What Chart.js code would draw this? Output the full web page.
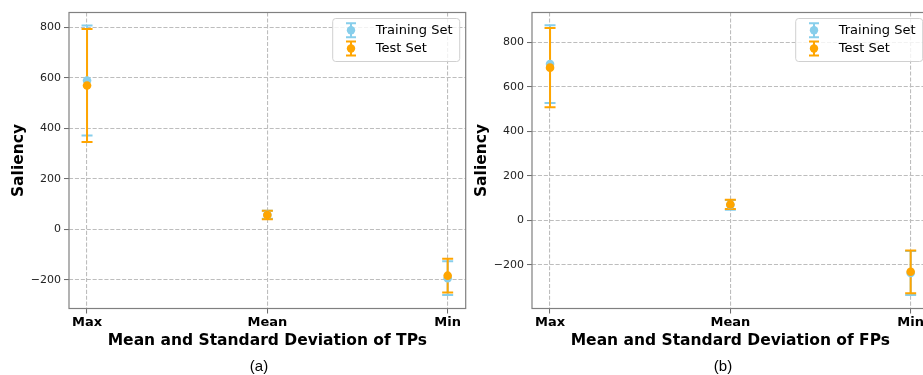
<!DOCTYPE html>
<html>
<head>
<meta charset="utf-8">
<script src="https://cdn.jsdelivr.net/npm/chart.js@4.4.1/dist/chart.umd.min.js"></script>
<style>
  html, body { margin: 0; padding: 0; background: #fff; }
  body { width: 923px; height: 375px; overflow: hidden; position: relative; }
  canvas { position: absolute; top: 0; }
  .cap { position: absolute; width: 100px; text-align: center; font: 15px "Liberation Sans", Arial, sans-serif; color: #000; top: 357px; }
</style>
</head>
<body>
<canvas id="chartA" width="470" height="375" style="left:0"></canvas>
<canvas id="chartB" width="470" height="375" style="left:463px"></canvas>
<div class="cap" style="left:209px">(a)</div>
<div class="cap" style="left:673px">(b)</div>
<script>
// categories on the x axis
const categories = ['Max', 'Mean', 'Min'];
const xPositions = [0, 1, 2];
const yTicks = [-200, 0, 200, 400, 600, 800];

// (a) TPs
const trainMeanA = [590, 58, -193];
const trainStdA = [218, 16, 67];
const testMeanA = [570, 57, -183];
const testStdA = [224, 17, 67];

// (b) FPs
const trainMeanB = [703, 70, -236];
const trainStdB = [175, 22, 99];
const testMeanB = [687, 72, -231];
const testStdB = [178, 21, 96];

const FONT = 'DejaVu Sans';
const SKY = '#87CEEB';
const ORANGE = '#FFA500';

// draws the error bars (under the markers), the frame and the legend
const errorBars = {
  id: 'errorBars',
  beforeDatasetsDraw(chart) {
    const { ctx, scales: { x, y } } = chart;
    chart.data.datasets.forEach(ds => {
      ctx.save();
      ctx.strokeStyle = ds.backgroundColor;
      ctx.lineWidth = 2;
      ds.data.forEach((p, i) => {
        const px = x.getPixelForValue(p.x);
        const top = y.getPixelForValue(p.y + ds.err[i]);
        const bot = y.getPixelForValue(p.y - ds.err[i]);
        ctx.beginPath();
        ctx.moveTo(px, top); ctx.lineTo(px, bot);
        ctx.moveTo(px - 5.5, top); ctx.lineTo(px + 5.5, top);
        ctx.moveTo(px - 5.5, bot); ctx.lineTo(px + 5.5, bot);
        ctx.stroke();
      });
      ctx.restore();
    });
  },
  afterDatasetsDraw(chart) {
    const { ctx, chartArea: a } = chart;
    ctx.save();
    ctx.strokeStyle = '#808080';
    ctx.lineWidth = 1.2;
    ctx.strokeRect(a.left, a.top, a.right - a.left, a.bottom - a.top);

    // legend box
    const w = 127, h = 43;
    const bx = a.right - 6 - w, by = a.top + 6;
    ctx.beginPath();
    ctx.roundRect(bx, by, w, h, 3);
    ctx.fillStyle = 'rgba(255,255,255,0.8)';
    ctx.fill();
    ctx.strokeStyle = '#d0d0d0';
    ctx.lineWidth = 1;
    ctx.stroke();
    chart.data.datasets.forEach((ds, i) => {
      const cy = by + 11.7 + i * 18.3;
      const cx = bx + 18.3;
      ctx.strokeStyle = ds.backgroundColor;
      ctx.lineWidth = 2;
      ctx.beginPath();
      ctx.moveTo(cx, cy - 7); ctx.lineTo(cx, cy + 7);
      ctx.moveTo(cx - 5, cy - 7); ctx.lineTo(cx + 5, cy - 7);
      ctx.moveTo(cx - 5, cy + 7); ctx.lineTo(cx + 5, cy + 7);
      ctx.stroke();
      ctx.fillStyle = ds.backgroundColor;
      ctx.beginPath();
      ctx.arc(cx, cy, 4.2, 0, Math.PI * 2);
      ctx.fill();
      ctx.fillStyle = '#000';
      ctx.font = '13px "' + FONT + '"';
      ctx.textBaseline = 'middle';
      ctx.fillText(ds.label, bx + 43, cy);
    });
    ctx.restore();
  }
};

function fmt(v) {
  return v < 0 ? '\u2212' + Math.abs(v) : String(v);
}

function makeChart(id, trainMean, trainStd, testMean, testStd, yMin, yMax, xTitle) {
  return new Chart(document.getElementById(id), {
    type: 'scatter',
    data: {
      datasets: [
        {
          label: 'Training Set',
          data: xPositions.map((x, i) => ({ x: x, y: trainMean[i] })),
          err: trainStd,
          backgroundColor: SKY,
          pointRadius: 4.3,
          pointBorderWidth: 0,
          order: 1
        },
        {
          label: 'Test Set',
          data: xPositions.map((x, i) => ({ x: x, y: testMean[i] })),
          err: testStd,
          backgroundColor: ORANGE,
          pointRadius: 4.3,
          pointBorderWidth: 0,
          order: 0
        }
      ]
    },
    options: {
      responsive: false,
      animation: false,
      layout: { padding: { top: 12.5, right: 4, bottom: 24.7, left: 0 } },
      plugins: { legend: { display: false }, tooltip: { enabled: false } },
      scales: {
        x: {
          type: 'linear',
          min: -0.1,
          max: 2.1,
          afterBuildTicks: s => { s.ticks = xPositions.map(v => ({ value: v })); },
          afterFit: s => { s.height = 41.8; },
          ticks: {
            callback: (v, i) => categories[i],
            font: { family: FONT, size: 13, weight: 'bold' },
            color: '#000',
            padding: 1.5,
            maxRotation: 0,
            autoSkip: false
          },
          grid: { color: '#bdbdbd', lineWidth: 1.1, tickLength: 5, tickColor: '#666', tickWidth: 1 },
          border: { display: false, dash: [4.1, 1.8] },
          title: {
            display: true,
            text: xTitle,
            font: { family: FONT, size: 15.5, weight: 'bold' },
            color: '#000',
            padding: 0
          }
        },
        y: {
          min: yMin,
          max: yMax,
          afterBuildTicks: s => { s.ticks = yTicks.map(v => ({ value: v })); },
          afterFit: s => { s.width = 69; },
          ticks: {
            callback: v => fmt(v),
            font: { family: FONT, size: 11 },
            color: '#222',
            padding: 3
          },
          grid: { color: '#bdbdbd', lineWidth: 1.1, tickLength: 5, tickColor: '#666', tickWidth: 1 },
          border: { display: false, dash: [4.1, 1.8] },
          title: {
            display: true,
            text: 'Saliency',
            font: { family: FONT, size: 15.5, weight: 'bold' },
            color: '#000',
            padding: { top: 9.4, bottom: 0 }
          }
        }
      }
    },
    plugins: [errorBars]
  });
}

makeChart('chartA', trainMeanA, trainStdA, testMeanA, testStdA, -313, 859, 'Mean and Standard Deviation of TPs');
makeChart('chartB', trainMeanB, trainStdB, testMeanB, testStdB, -396, 935, 'Mean and Standard Deviation of FPs');
</script>
</body>
</html>
